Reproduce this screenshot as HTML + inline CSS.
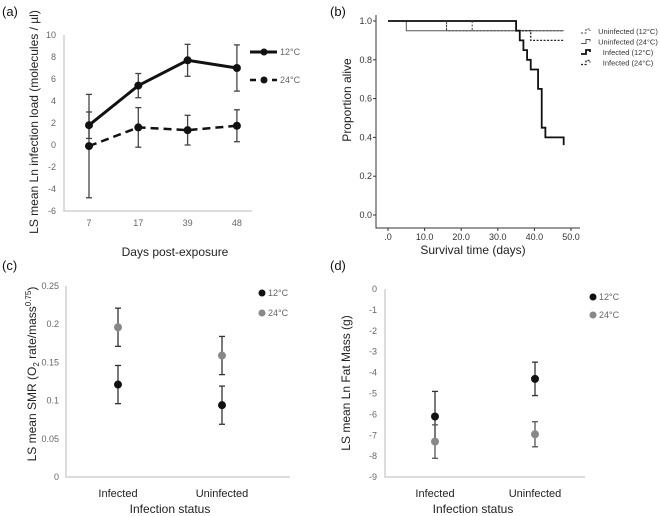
<!DOCTYPE html>
<html><head><meta charset="utf-8"><style>
body{margin:0;background:#fff;}
svg{display:block;font-family:"Liberation Sans",sans-serif;}
.t{font-size:9px;fill:#666;}
.ax{stroke:#d0d0d0;stroke-width:1.5;fill:none;}
.lbl{font-size:12px;fill:#222;}
.pl{font-size:13px;fill:#111;}
</style></head><body>
<svg id="s" width="660" height="516">
<text x="2" y="16" class="pl">(a)</text>
<text x="330" y="16" class="pl">(b)</text>
<text x="2" y="270" class="pl">(c)</text>
<text x="330" y="270" class="pl">(d)</text>
</svg>
<script>
// Panel a
const aDays=["7","17","39","48"];
const a12=[1.8,5.4,7.7,7.0];
const a12e=[1.2,1.1,1.45,2.1];
const a24=[-0.1,1.6,1.35,1.75];
const a24e=[4.7,1.8,1.35,1.45];
const aTicks=[10,8,6,4,2,0,-2,-4,-6];
// Panel b
const bTicks=[1.0,0.8,0.6,0.4,0.2,0.0];
const bXTicks=[0,10,20,30,40,50];
const bUninf12T=[0,16,48];const bUninf12P=[1.0,0.95,0.95];
const bUninf24T=[0,5,48];const bUninf24P=[1.0,0.95,0.95];
const bInf12T=[0,35,36,37,38,39,41,42,43,48];const bInf12P=[1.0,0.95,0.9,0.85,0.8,0.75,0.65,0.45,0.4,0.36];
const bInf24T=[0,35,39,48];const bInf24P=[1.0,0.95,0.9,0.9];
const bCensor=[16,23];
// Panel c
const cCats=["Infected","Uninfected"];
const c12=[0.121,0.094];const c12e=[0.025,0.025];
const c24=[0.196,0.159];const c24e=[0.025,0.025];
const cTicks=[0.25,0.2,0.15,0.1,0.05,0];
// Panel d
const dCats=["Infected","Uninfected"];
const d12=[-6.1,-4.3];const d12e=[1.2,0.8];
const d24=[-7.3,-6.95];const d24e=[0.8,0.6];
const dTicks=[0,-1,-2,-3,-4,-5,-6,-7,-8,-9];

const S=document.getElementById('s');
function el(tag,attrs,name,txt){const e=document.createElementNS('http://www.w3.org/2000/svg',tag);for(const k in attrs)e.setAttribute(k,attrs[k]);


if(txt!==undefined)e.textContent=txt;S.appendChild(e);return e;}
function errbar(x,y1,y2,col,name){el('line',{x1:x,x2:x,y1:y1,y2:y2,stroke:col,'stroke-width':1.3},name);
el('line',{x1:x-3,x2:x+3,y1:y1,y2:y1,stroke:col,'stroke-width':1.3},name+'-cap');
el('line',{x1:x-3,x2:x+3,y1:y2,y2:y2,stroke:col,'stroke-width':1.3},name+'-cap');}

// ---- A
const ay=v=>35+(10-v)*11;const ax=i=>89+i*49.3;
el('polyline',{points:'64,35 64,211 252,211',class:'ax'},'a-axes');
aTicks.forEach(v=>el('text',{x:56,y:ay(v)+3,class:'t','text-anchor':'end'},'a-y-tick',String(v)));
aDays.forEach((d,i)=>el('text',{x:ax(i),y:226,class:'t','text-anchor':'middle'},'a-x-tick',d));
a24.forEach((v,i)=>errbar(ax(i),ay(v+a24e[i]),ay(v-a24e[i]),'#444','a-err-24'));
a12.forEach((v,i)=>errbar(ax(i),ay(v+a12e[i]),ay(v-a12e[i]),'#444','a-err-12'));
el('polyline',{points:a24.map((v,i)=>ax(i)+','+ay(v)).join(' '),fill:'none',stroke:'#111','stroke-width':2.5,'stroke-dasharray':'8,5'},'a-line-24');
el('polyline',{points:a12.map((v,i)=>ax(i)+','+ay(v)).join(' '),fill:'none',stroke:'#111','stroke-width':3},'a-line-12');
a12.forEach((v,i)=>el('circle',{cx:ax(i),cy:ay(v),r:4,fill:'#111'},'a-point-12'));
a24.forEach((v,i)=>el('circle',{cx:ax(i),cy:ay(v),r:4,fill:'#111'},'a-point-24'));
el('line',{x1:250,x2:277,y1:52,y2:52,stroke:'#111','stroke-width':3},'a-legend-12-line');el('circle',{cx:264,cy:52,r:3.5,fill:'#111'},'a-legend-12-dot');
el('text',{x:280,y:55,class:'t'},'a-legend-12','12°C');
el('line',{x1:250,x2:277,y1:80,y2:80,stroke:'#111','stroke-width':2.5,'stroke-dasharray':'6,5'},'a-legend-24-line');el('circle',{cx:264,cy:80,r:3.5,fill:'#111'},'a-legend-24-dot');
el('text',{x:280,y:83,class:'t'},'a-legend-24','24°C');
el('text',{x:175,y:256,class:'lbl','text-anchor':'middle'},'a-x-axis-title','Days post-exposure');
el('text',{x:0,y:0,class:'lbl','text-anchor':'middle',transform:'translate(38,122) rotate(-90)'},'a-y-axis-title','LS mean Ln infection load (molecules / µl)');

// ---- B
const by=v=>215-v*194;const bx=t=>388+t*3.66;
el('polyline',{points:'376,15 376,228 580,228',fill:'none',stroke:'#333','stroke-width':1},'b-axes');
bTicks.forEach(v=>{el('text',{x:372,y:by(v)+3,class:'t','text-anchor':'end',style:'fill:#333'},'b-y-tick',v.toFixed(1));el('line',{x1:373,x2:376,y1:by(v),y2:by(v),stroke:'#333'},'b-y-tickmark');});
bXTicks.forEach(v=>{el('text',{x:bx(v),y:240,class:'t','text-anchor':'middle',style:'fill:#333'},'b-x-tick',v==0?'.0':v.toFixed(1));el('line',{x1:bx(v),x2:bx(v),y1:228,y2:231,stroke:'#333'},'b-x-tickmark');});
function step(T,P){let d='M'+bx(T[0])+','+by(P[0]);for(let i=1;i<T.length;i++){d+=' H'+bx(T[i])+' V'+by(P[i]);}return d;}
el('path',{d:step(bUninf12T,bUninf12P),fill:'none',stroke:'#444','stroke-width':1,'stroke-dasharray':'2,1.5'},'b-uninfected-12');
el('path',{d:step(bUninf24T,bUninf24P),fill:'none',stroke:'#555','stroke-width':1},'b-uninfected-24');
el('path',{d:step(bInf24T,bInf24P),fill:'none',stroke:'#222','stroke-width':1.3,'stroke-dasharray':'2,1.5'},'b-infected-24');
el('path',{d:step(bInf12T,bInf12P),fill:'none',stroke:'#111','stroke-width':1.8},'b-infected-12');
bCensor.forEach(t=>el('line',{x1:bx(t),x2:bx(t),y1:by(1),y2:by(0.95),stroke:'#444','stroke-dasharray':'2,1.5'},'b-censor-mark'));
const bLeg=['Uninfected (12°C)','Uninfected (24°C)','Infected (12°C)','Infected (24°C)'];
const bLegStyle=[['#444',1,'2,1.5'],['#555',1,'none'],['#111',1.8,'none'],['#222',1.3,'2,1.5']];
bLeg.forEach((s,i)=>{const y=31+i*10.5;const st=bLegStyle[i];
el('path',{d:`M581,${y+2} H586 V${y-2} H590 V${y}`,fill:'none',stroke:st[0],'stroke-width':st[1],'stroke-dasharray':st[2]},'b-legend-swatch');
el('text',{x:628,y:y+3,class:'t','text-anchor':'middle',style:'fill:#333;font-size:7.5px'},'b-legend-entry',s);});
el('text',{x:473,y:254,class:'lbl','text-anchor':'middle'},'b-x-axis-title','Survival time (days)');
el('text',{x:0,y:0,class:'lbl','text-anchor':'middle',transform:'translate(351,100) rotate(-90)'},'b-y-axis-title','Proportion alive');

// ---- C
const cy=v=>477-v*764;const cx=i=>118+i*104;
el('polyline',{points:'66,286 66,477 290,477',class:'ax'},'c-axes');
cTicks.forEach(v=>el('text',{x:59,y:cy(v)+3,class:'t','text-anchor':'end'},'c-y-tick',String(v)));
cCats.forEach((c,i)=>el('text',{x:cx(i),y:497,class:'lbl','text-anchor':'middle',style:'font-size:11px'},'c-x-tick',c));
c12.forEach((v,i)=>{errbar(cx(i),cy(v+c12e[i]),cy(v-c12e[i]),'#333','c-err-12');el('circle',{cx:cx(i),cy:cy(v),r:4,fill:'#111'},'c-point-12');});
c24.forEach((v,i)=>{errbar(cx(i),cy(v+c24e[i]),cy(v-c24e[i]),'#333','c-err-24');el('circle',{cx:cx(i),cy:cy(v),r:4,fill:'#888'},'c-point-24');});
el('circle',{cx:262,cy:293,r:3.5,fill:'#111'},'c-legend-12-dot');el('text',{x:268,y:296,class:'t'},'c-legend-12','12°C');
el('circle',{cx:262,cy:313,r:3.5,fill:'#888'},'c-legend-24-dot');el('text',{x:268,y:316,class:'t'},'c-legend-24','24°C');
el('text',{x:170,y:513,class:'lbl','text-anchor':'middle'},'c-x-axis-title','Infection status');
const ct=el('text',{x:0,y:0,class:'lbl','text-anchor':'middle',transform:'translate(36,374) rotate(-90)'},'c-y-axis-title');
ct.innerHTML='LS mean SMR (O<tspan dy="3" font-size="8">2</tspan><tspan dy="-3"> rate/mass</tspan><tspan dy="-5" font-size="8">0.75</tspan><tspan dy="5">)</tspan>';

// ---- D
const dy=v=>289-v*20.9;const dx=i=>435+i*100;
el('polyline',{points:'385,289 385,477 585,477',class:'ax'},'d-axes');
dTicks.forEach(v=>el('text',{x:377,y:dy(v)+3,class:'t','text-anchor':'end'},'d-y-tick',String(v)));
dCats.forEach((c,i)=>el('text',{x:dx(i),y:497,class:'lbl','text-anchor':'middle',style:'font-size:11px'},'d-x-tick',c));
d12.forEach((v,i)=>{errbar(dx(i),dy(v+d12e[i]),dy(v-d12e[i]),'#333','d-err-12');el('circle',{cx:dx(i),cy:dy(v),r:4,fill:'#111'},'d-point-12');});
d24.forEach((v,i)=>{errbar(dx(i),dy(v+d24e[i]),dy(v-d24e[i]),'#555','d-err-24');el('circle',{cx:dx(i),cy:dy(v),r:4,fill:'#888'},'d-point-24');});
el('circle',{cx:593,cy:297,r:3.5,fill:'#111'},'d-legend-12-dot');el('text',{x:599,y:300,class:'t'},'d-legend-12','12°C');
el('circle',{cx:593,cy:315,r:3.5,fill:'#888'},'d-legend-24-dot');el('text',{x:599,y:318,class:'t'},'d-legend-24','24°C');
el('text',{x:473,y:513,class:'lbl','text-anchor':'middle'},'d-x-axis-title','Infection status');
el('text',{x:0,y:0,class:'lbl','text-anchor':'middle',transform:'translate(350,383) rotate(-90)'},'d-y-axis-title','LS mean Ln Fat Mass (g)');
</script>
</body></html>
